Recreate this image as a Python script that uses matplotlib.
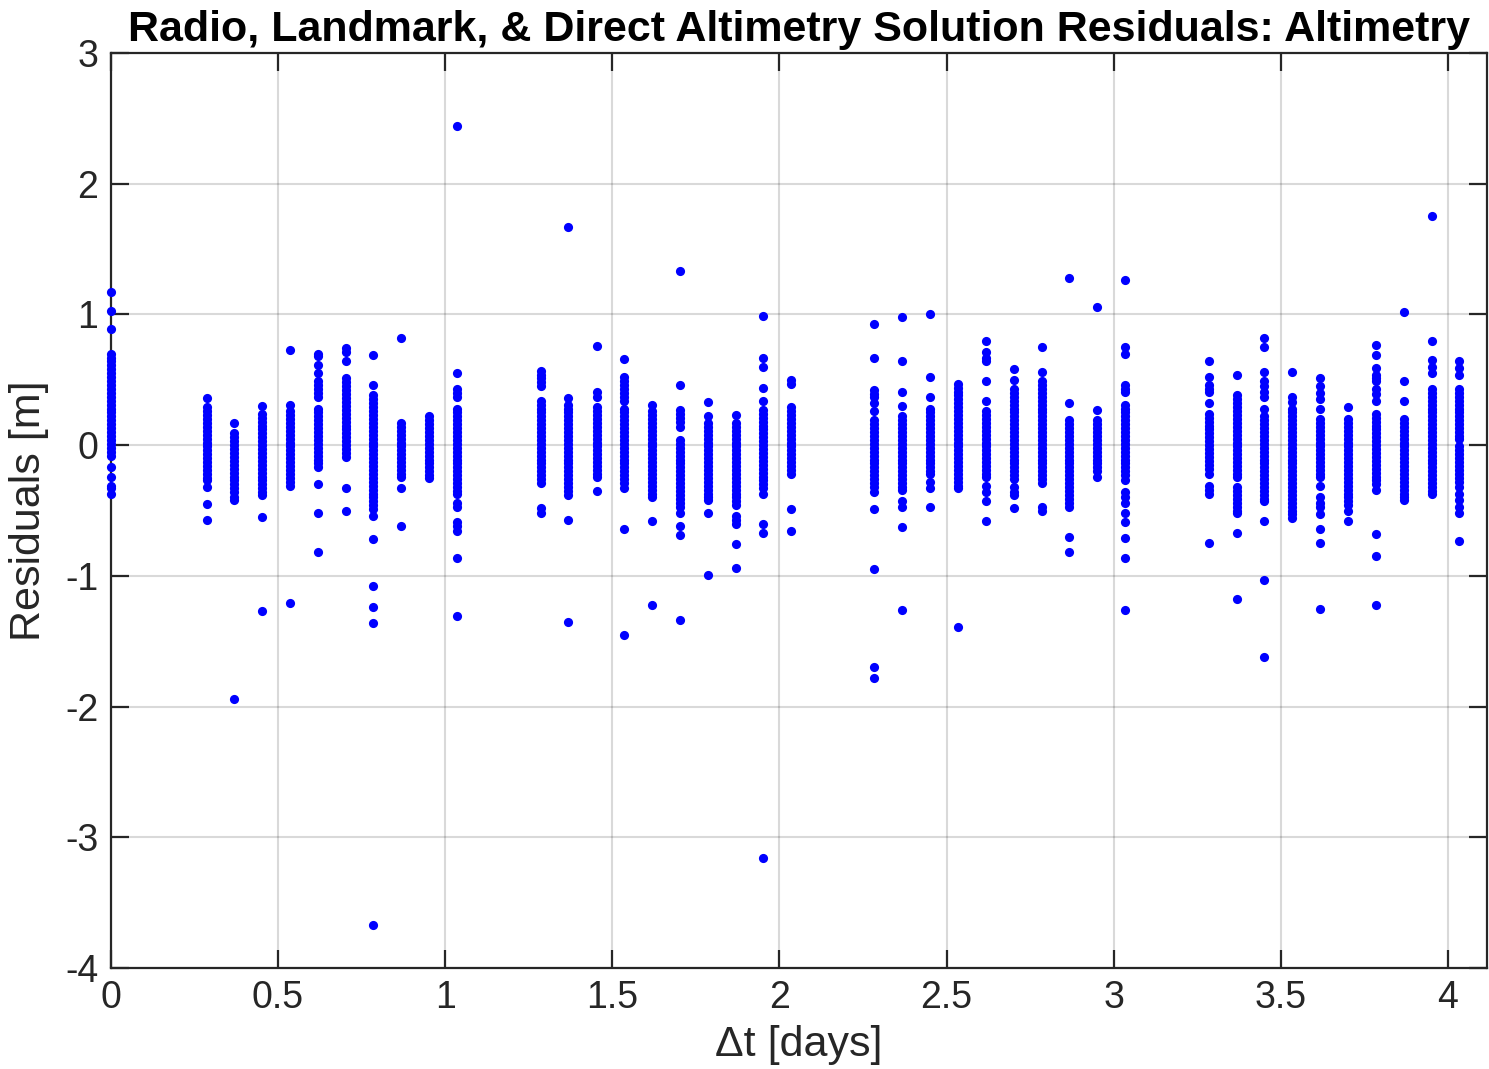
"""Altimetry residuals vs elapsed time, MATLAB-style scatter."""

import matplotlib

matplotlib.use("Agg")
import matplotlib.pyplot as plt
import numpy as np

plt.rcParams["font.family"] = ["Liberation Sans", "DejaVu Sans"]
plt.rcParams["axes.unicode_minus"] = False

# column time stamps (days)
col_x = [
    0.0, 0.286, 0.369, 0.451, 0.536, 0.618, 0.702, 0.785, 0.868, 0.951, 1.034,
    1.286, 1.368, 1.453, 1.535, 1.618, 1.702, 1.785, 1.869, 1.952, 2.034,
    2.284, 2.367, 2.450, 2.535, 2.618, 2.702, 2.784, 2.867, 2.951, 3.034,
    3.285, 3.368, 3.450, 3.534, 3.617, 3.702, 3.785, 3.868, 3.951, 4.034,
]

# residuals (m) in each column, read top to bottom
col_y = [
    [1.17, 1.03, 0.89, 0.70, 0.67, 0.64, 0.61, 0.58, 0.55, 0.52, 0.49, 0.46, 0.43, 0.40,
     0.37, 0.34, 0.31, 0.28, 0.25, 0.22, 0.19, 0.16, 0.13, 0.10, 0.07, 0.04, 0.01, -0.02,
     -0.05, -0.08, -0.17, -0.24, -0.31, -0.33, -0.37],
    [0.36, 0.29, 0.26, 0.23, 0.20, 0.17, 0.14, 0.11, 0.08, 0.05, 0.02, -0.01, -0.04,
     -0.07, -0.10, -0.13, -0.16, -0.19, -0.22, -0.25, -0.27, -0.32, -0.45, -0.57],
    [0.17, 0.09, 0.06, 0.03, 0.00, -0.03, -0.06, -0.09, -0.12, -0.15, -0.18, -0.21, -0.24,
     -0.27, -0.30, -0.33, -0.36, -0.40, -0.42, -1.94],
    [0.30, 0.24, 0.21, 0.18, 0.15, 0.12, 0.09, 0.06, 0.03, 0.00, -0.03, -0.06, -0.09,
     -0.12, -0.15, -0.18, -0.21, -0.24, -0.27, -0.30, -0.33, -0.36, -0.38, -0.55, -1.27],
    [0.73, 0.31, 0.26, 0.23, 0.20, 0.17, 0.14, 0.11, 0.08, 0.05, 0.02, -0.01, -0.04,
     -0.07, -0.10, -0.13, -0.16, -0.19, -0.22, -0.25, -0.28, -0.31, -1.21],
    [0.70, 0.68, 0.61, 0.55, 0.49, 0.46, 0.43, 0.40, 0.37, 0.28, 0.25, 0.22, 0.19, 0.16,
     0.13, 0.10, 0.07, 0.04, 0.01, -0.02, -0.05, -0.08, -0.11, -0.14, -0.17, -0.30, -0.52,
     -0.82],
    [0.74, 0.71, 0.64, 0.51, 0.48, 0.45, 0.42, 0.39, 0.36, 0.33, 0.30, 0.27, 0.24, 0.21,
     0.18, 0.15, 0.12, 0.09, 0.06, 0.03, 0.00, -0.03, -0.06, -0.09, -0.33, -0.50],
    [0.69, 0.46, 0.38, 0.35, 0.32, 0.29, 0.26, 0.23, 0.20, 0.17, 0.14, 0.11, 0.08, 0.05,
     0.02, -0.01, -0.04, -0.07, -0.10, -0.13, -0.16, -0.19, -0.22, -0.25, -0.28, -0.31,
     -0.34, -0.37, -0.40, -0.43, -0.46, -0.49, -0.54, -0.72, -1.08, -1.24, -1.36, -3.67],
    [0.82, 0.17, 0.14, 0.11, 0.08, 0.05, 0.02, -0.01, -0.04, -0.07, -0.10, -0.13, -0.16,
     -0.19, -0.22, -0.24, -0.33, -0.62],
    [0.22, 0.19, 0.16, 0.13, 0.10, 0.07, 0.04, 0.01, -0.02, -0.05, -0.08, -0.11, -0.14,
     -0.17, -0.20, -0.23, -0.25],
    [2.44, 0.55, 0.43, 0.40, 0.37, 0.28, 0.25, 0.22, 0.19, 0.16, 0.13, 0.10, 0.07, 0.04,
     0.01, -0.02, -0.05, -0.08, -0.11, -0.14, -0.17, -0.20, -0.23, -0.26, -0.29, -0.32,
     -0.35, -0.37, -0.44, -0.47, -0.59, -0.62, -0.66, -0.86, -1.31],
    [0.57, 0.54, 0.51, 0.48, 0.45, 0.34, 0.31, 0.28, 0.25, 0.22, 0.19, 0.16, 0.13, 0.10,
     0.07, 0.04, 0.01, -0.02, -0.05, -0.08, -0.11, -0.14, -0.17, -0.20, -0.23, -0.26,
     -0.29, -0.48, -0.52],
    [1.67, 0.36, 0.31, 0.28, 0.25, 0.22, 0.19, 0.16, 0.13, 0.10, 0.07, 0.04, 0.01, -0.02,
     -0.05, -0.08, -0.11, -0.14, -0.17, -0.20, -0.23, -0.26, -0.29, -0.32, -0.35, -0.38,
     -0.57, -1.35],
    [0.76, 0.41, 0.37, 0.29, 0.26, 0.23, 0.20, 0.17, 0.14, 0.11, 0.08, 0.05, 0.02, -0.01,
     -0.04, -0.07, -0.10, -0.13, -0.16, -0.19, -0.22, -0.24, -0.35],
    [0.66, 0.52, 0.49, 0.46, 0.43, 0.40, 0.37, 0.34, 0.28, 0.25, 0.22, 0.19, 0.16, 0.13,
     0.10, 0.07, 0.04, 0.01, -0.02, -0.05, -0.08, -0.11, -0.14, -0.17, -0.20, -0.23,
     -0.26, -0.29, -0.33, -0.64, -1.45],
    [0.31, 0.26, 0.23, 0.20, 0.17, 0.14, 0.11, 0.08, 0.05, 0.02, -0.01, -0.04, -0.07,
     -0.10, -0.13, -0.16, -0.19, -0.22, -0.25, -0.28, -0.31, -0.34, -0.37, -0.40, -0.58,
     -1.22],
    [1.33, 0.46, 0.27, 0.24, 0.21, 0.18, 0.14, 0.04, 0.01, -0.02, -0.05, -0.08, -0.11,
     -0.14, -0.17, -0.20, -0.23, -0.26, -0.29, -0.32, -0.35, -0.38, -0.41, -0.44, -0.47,
     -0.52, -0.62, -0.69, -1.34],
    [0.33, 0.22, 0.17, 0.14, 0.11, 0.08, 0.05, 0.02, -0.01, -0.04, -0.07, -0.10, -0.13,
     -0.16, -0.19, -0.22, -0.25, -0.28, -0.31, -0.34, -0.37, -0.40, -0.42, -0.52, -0.99],
    [0.23, 0.17, 0.14, 0.11, 0.08, 0.05, 0.02, -0.01, -0.04, -0.07, -0.10, -0.13, -0.16,
     -0.19, -0.22, -0.25, -0.28, -0.31, -0.34, -0.37, -0.40, -0.43, -0.46, -0.54, -0.57,
     -0.60, -0.76, -0.94],
    [0.99, 0.67, 0.60, 0.44, 0.34, 0.27, 0.24, 0.21, 0.18, 0.15, 0.12, 0.09, 0.06, 0.03,
     0.00, -0.03, -0.06, -0.09, -0.12, -0.15, -0.18, -0.21, -0.24, -0.27, -0.30, -0.33,
     -0.37, -0.60, -0.67, -3.16],
    [0.50, 0.47, 0.29, 0.26, 0.23, 0.20, 0.17, 0.14, 0.11, 0.08, 0.05, 0.02, -0.01, -0.04,
     -0.07, -0.10, -0.13, -0.16, -0.19, -0.22, -0.49, -0.66],
    [0.93, 0.67, 0.42, 0.39, 0.37, 0.32, 0.26, 0.19, 0.16, 0.13, 0.10, 0.07, 0.04, 0.01,
     -0.02, -0.05, -0.08, -0.11, -0.14, -0.17, -0.20, -0.23, -0.26, -0.29, -0.32, -0.36,
     -0.49, -0.95, -1.70, -1.78],
    [0.98, 0.64, 0.41, 0.30, 0.22, 0.19, 0.16, 0.13, 0.10, 0.07, 0.04, 0.01, -0.02, -0.05,
     -0.08, -0.11, -0.14, -0.17, -0.20, -0.23, -0.26, -0.29, -0.32, -0.34, -0.43, -0.47,
     -0.63, -1.26],
    [1.00, 0.52, 0.37, 0.28, 0.25, 0.22, 0.19, 0.16, 0.13, 0.10, 0.07, 0.04, 0.01, -0.02,
     -0.05, -0.08, -0.11, -0.14, -0.17, -0.20, -0.22, -0.28, -0.33, -0.47],
    [0.47, 0.44, 0.41, 0.38, 0.35, 0.32, 0.29, 0.26, 0.23, 0.20, 0.17, 0.14, 0.11, 0.08,
     0.05, 0.02, -0.01, -0.04, -0.07, -0.10, -0.13, -0.16, -0.19, -0.22, -0.25, -0.28,
     -0.31, -0.33, -1.39],
    [0.80, 0.71, 0.67, 0.64, 0.49, 0.34, 0.26, 0.23, 0.20, 0.17, 0.14, 0.11, 0.08, 0.05,
     0.02, -0.01, -0.04, -0.07, -0.10, -0.13, -0.16, -0.19, -0.22, -0.24, -0.31, -0.36,
     -0.43, -0.58],
    [0.58, 0.50, 0.43, 0.40, 0.37, 0.34, 0.31, 0.28, 0.25, 0.22, 0.19, 0.16, 0.13, 0.10,
     0.07, 0.04, 0.01, -0.02, -0.05, -0.08, -0.11, -0.14, -0.17, -0.20, -0.23, -0.26,
     -0.32, -0.36, -0.38, -0.48],
    [0.75, 0.56, 0.49, 0.46, 0.43, 0.40, 0.37, 0.34, 0.31, 0.28, 0.25, 0.22, 0.19, 0.16,
     0.13, 0.10, 0.07, 0.04, 0.01, -0.02, -0.05, -0.08, -0.11, -0.14, -0.17, -0.20, -0.23,
     -0.26, -0.29, -0.47, -0.50],
    [1.28, 0.32, 0.19, 0.16, 0.13, 0.10, 0.07, 0.04, 0.01, -0.02, -0.05, -0.08, -0.11,
     -0.14, -0.17, -0.20, -0.23, -0.26, -0.29, -0.32, -0.35, -0.38, -0.41, -0.44, -0.47,
     -0.70, -0.82],
    [1.06, 0.27, 0.19, 0.16, 0.13, 0.10, 0.07, 0.04, 0.01, -0.02, -0.05, -0.08, -0.11,
     -0.14, -0.17, -0.20, -0.24],
    [1.26, 0.75, 0.70, 0.46, 0.43, 0.41, 0.31, 0.28, 0.25, 0.22, 0.19, 0.16, 0.13, 0.10,
     0.07, 0.04, 0.01, -0.02, -0.05, -0.08, -0.11, -0.14, -0.17, -0.20, -0.23, -0.27,
     -0.36, -0.40, -0.44, -0.52, -0.59, -0.71, -0.86, -1.26],
    [0.64, 0.52, 0.46, 0.43, 0.41, 0.32, 0.24, 0.21, 0.18, 0.15, 0.12, 0.09, 0.06, 0.03,
     0.00, -0.03, -0.06, -0.09, -0.12, -0.15, -0.18, -0.22, -0.31, -0.34, -0.37, -0.75],
    [0.54, 0.38, 0.35, 0.32, 0.29, 0.26, 0.23, 0.20, 0.17, 0.14, 0.11, 0.08, 0.05, 0.02,
     -0.01, -0.04, -0.07, -0.10, -0.13, -0.16, -0.19, -0.22, -0.24, -0.32, -0.35, -0.38,
     -0.41, -0.44, -0.47, -0.50, -0.52, -0.67, -1.18],
    [0.82, 0.75, 0.56, 0.49, 0.45, 0.41, 0.37, 0.28, 0.22, 0.19, 0.16, 0.13, 0.10, 0.07,
     0.04, 0.01, -0.02, -0.05, -0.08, -0.11, -0.14, -0.17, -0.20, -0.23, -0.26, -0.29,
     -0.32, -0.35, -0.38, -0.41, -0.43, -0.58, -1.03, -1.62],
    [0.56, 0.37, 0.33, 0.28, 0.25, 0.22, 0.19, 0.16, 0.13, 0.10, 0.07, 0.04, 0.01, -0.02,
     -0.05, -0.08, -0.11, -0.14, -0.17, -0.20, -0.23, -0.26, -0.29, -0.32, -0.35, -0.38,
     -0.41, -0.44, -0.47, -0.50, -0.53, -0.56],
    [0.51, 0.45, 0.40, 0.35, 0.28, 0.20, 0.17, 0.14, 0.11, 0.08, 0.05, 0.02, -0.01, -0.04,
     -0.07, -0.10, -0.13, -0.16, -0.19, -0.22, -0.24, -0.31, -0.40, -0.44, -0.47, -0.53,
     -0.64, -0.75, -1.25],
    [0.29, 0.20, 0.17, 0.14, 0.11, 0.08, 0.05, 0.02, -0.01, -0.04, -0.07, -0.10, -0.13,
     -0.16, -0.19, -0.22, -0.25, -0.28, -0.31, -0.34, -0.37, -0.40, -0.43, -0.46, -0.50,
     -0.58],
    [0.77, 0.69, 0.59, 0.54, 0.51, 0.49, 0.43, 0.39, 0.34, 0.24, 0.21, 0.18, 0.15, 0.12,
     0.09, 0.06, 0.03, 0.00, -0.03, -0.06, -0.09, -0.12, -0.15, -0.18, -0.21, -0.24,
     -0.27, -0.30, -0.34, -0.68, -0.85, -1.22],
    [1.02, 0.49, 0.34, 0.20, 0.17, 0.14, 0.11, 0.08, 0.05, 0.02, -0.01, -0.04, -0.07,
     -0.10, -0.13, -0.16, -0.19, -0.22, -0.25, -0.28, -0.31, -0.34, -0.37, -0.40, -0.42],
    [1.75, 0.80, 0.65, 0.60, 0.55, 0.43, 0.40, 0.37, 0.34, 0.31, 0.28, 0.25, 0.22, 0.19,
     0.16, 0.13, 0.10, 0.07, 0.04, 0.01, -0.02, -0.05, -0.08, -0.11, -0.14, -0.17, -0.20,
     -0.23, -0.26, -0.29, -0.32, -0.35, -0.37],
    [0.64, 0.59, 0.54, 0.43, 0.40, 0.37, 0.34, 0.31, 0.28, 0.25, 0.22, 0.19, 0.16, 0.13,
     0.10, 0.07, 0.05, -0.01, -0.04, -0.07, -0.10, -0.13, -0.16, -0.19, -0.22, -0.25,
     -0.28, -0.32, -0.37, -0.42, -0.47, -0.52, -0.73],
]

x_ticks = [0, 0.5, 1, 1.5, 2, 2.5, 3, 3.5, 4]
x_tick_labels = ["0", "0.5", "1", "1.5", "2", "2.5", "3", "3.5", "4"]
y_ticks = [-4, -3, -2, -1, 0, 1, 2, 3]

xs = np.concatenate([[x] * len(ys) for x, ys in zip(col_x, col_y)])
ys = np.concatenate(col_y)

fig = plt.figure(figsize=(14.89, 10.69), dpi=100)
ax = fig.add_axes([0.0745, 0.0945, 0.9242, 0.8559])

ax.plot(xs, ys, "o", color="#0000ff", markersize=6.6, markeredgewidth=0,
        clip_on=False, zorder=5)

ax.set_xlim(0, 4.117)
ax.set_ylim(-4, 3)
ax.set_xticks(x_ticks)
ax.set_xticklabels(x_tick_labels)
ax.set_yticks(y_ticks)
ax.grid(True, color="#000000", alpha=0.15, linewidth=1.5)
ax.set_axisbelow(True)

dark = "#262626"
for s in ax.spines.values():
    s.set_color(dark)
    s.set_linewidth(1.6)
ax.tick_params(direction="in", length=13, width=1.6, colors=dark, labelsize=27,
               top=True, right=True, pad=9)

ax.set_xlabel("Δt [days]", fontsize=31, color=dark, labelpad=6)
ax.set_ylabel("Residuals [m]", fontsize=31, color=dark, labelpad=12)
ax.set_title("Radio, Landmark, & Direct Altimetry Solution Residuals: Altimetry",
             fontsize=31, fontweight="bold", color="#000000", pad=9)

fig.savefig("out.png", dpi=100)
